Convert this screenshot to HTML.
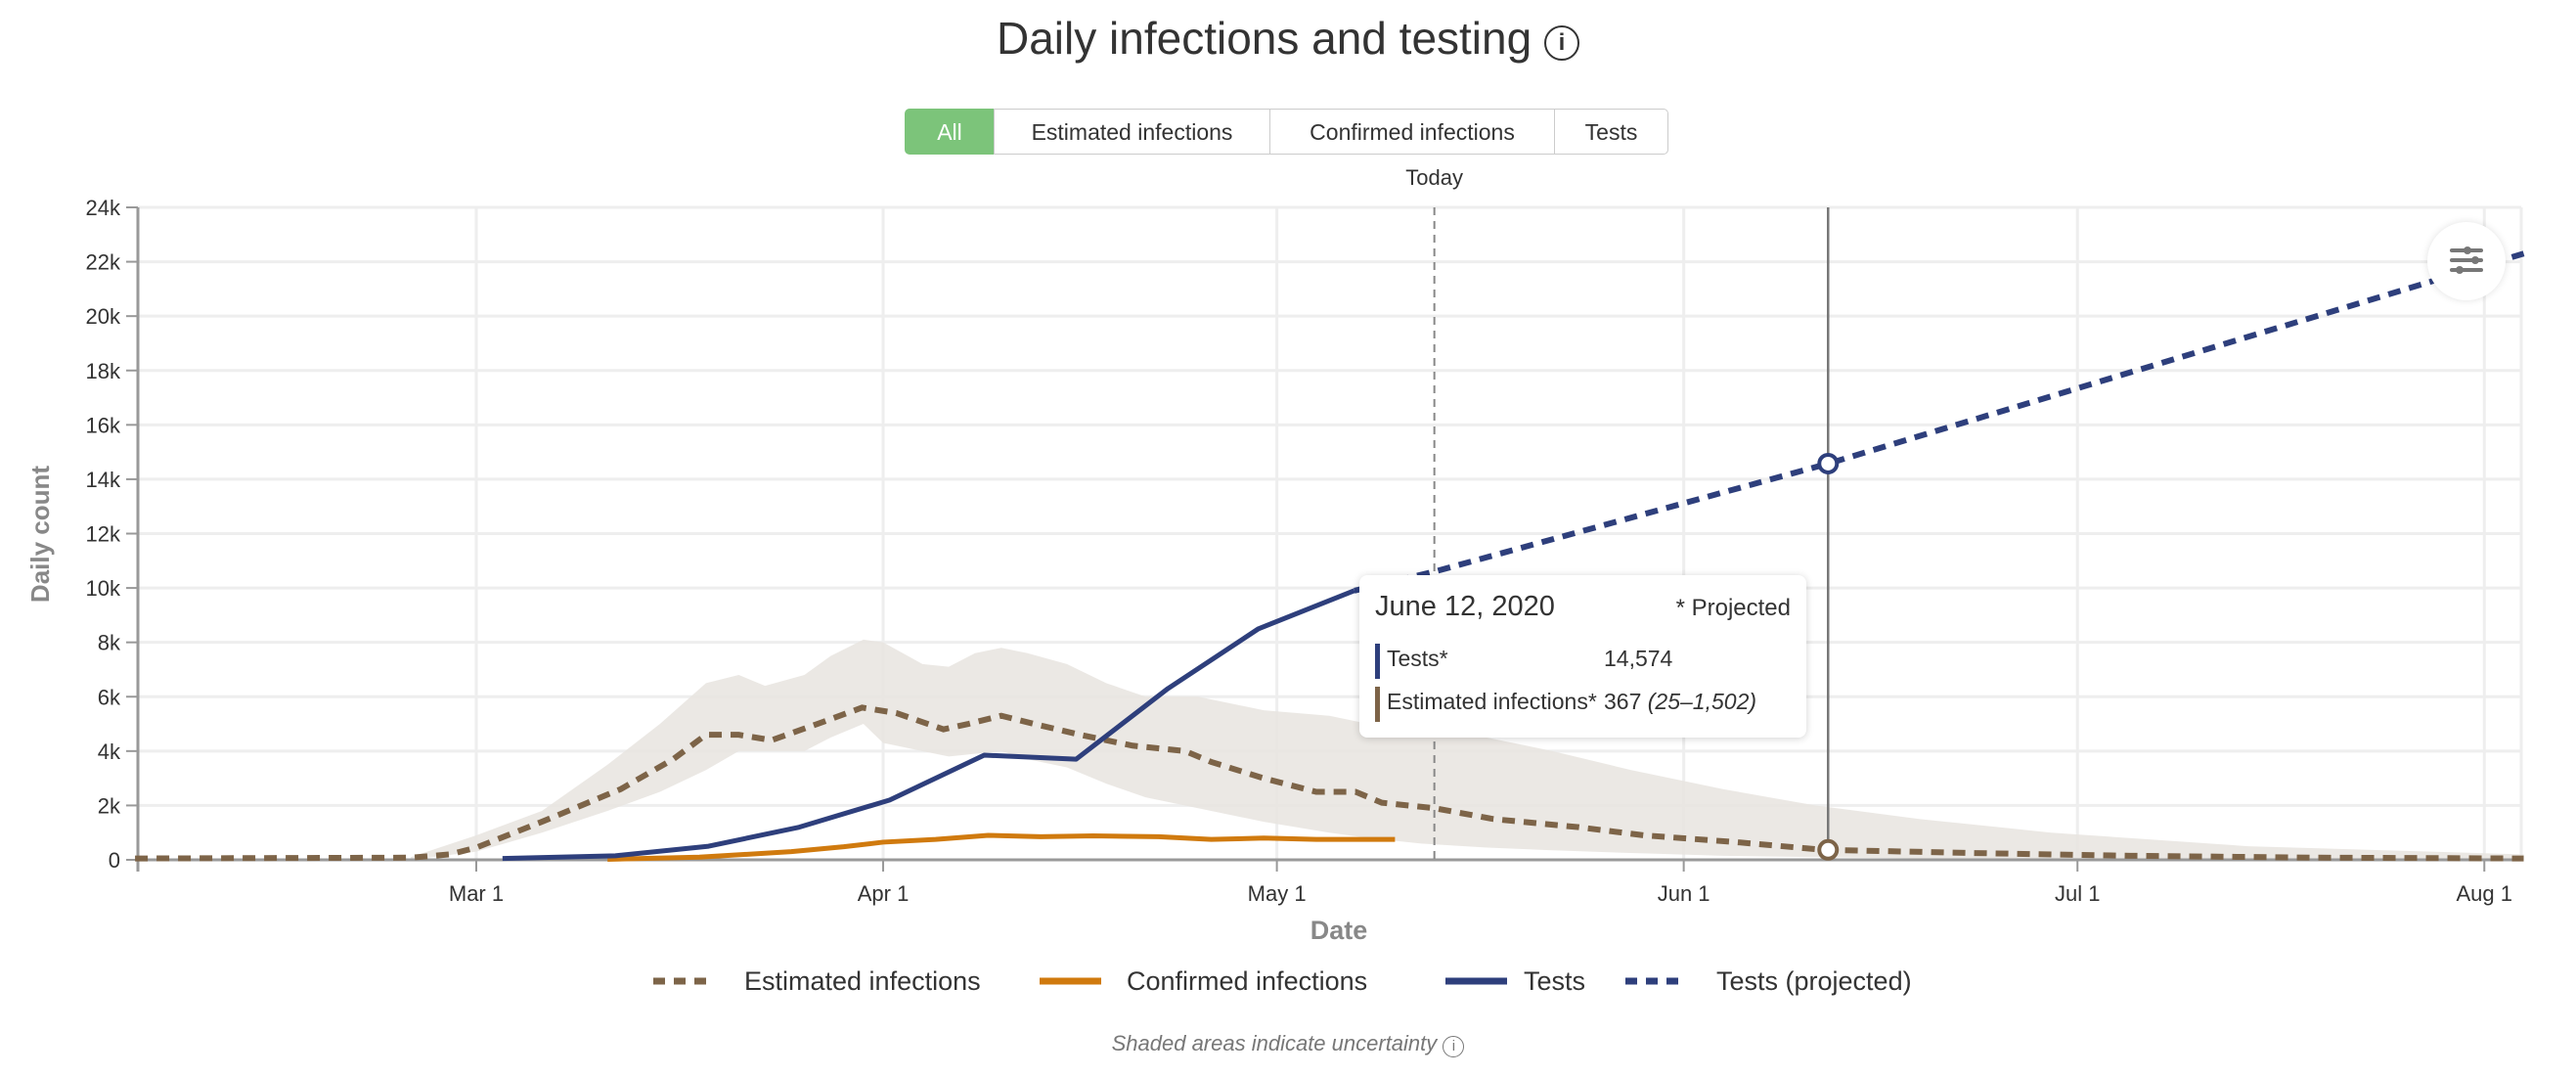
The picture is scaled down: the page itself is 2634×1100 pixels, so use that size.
<!DOCTYPE html>
<html><head><meta charset="utf-8">
<style>
body{margin:0;width:2634px;height:1100px;background:#fff;font-family:"Liberation Sans",sans-serif;overflow:hidden;position:relative}
.btn{position:absolute;top:111px;height:47px;line-height:47px;text-align:center;font-size:23px;color:#333;border:1.5px solid #ccc;box-sizing:border-box;background:#fff}
</style></head><body>
<div style="position:absolute;left:0;width:2634px;top:12px;text-align:center;font-size:46px;color:#333">Daily infections and testing <span style="display:inline-block;width:32px;height:32px;border:2.5px solid #333;border-radius:50%;font-size:24px;line-height:32px;vertical-align:4px;font-weight:bold">i</span></div>
<div class="btn" style="left:925px;width:92px;background:#7cc47a;color:#fff;border-color:#7cc47a;border-radius:5px 0 0 5px">All</div>
<div class="btn" style="left:1016px;width:283px">Estimated infections</div>
<div class="btn" style="left:1298px;width:292px">Confirmed infections</div>
<div class="btn" style="left:1589px;width:117px;border-radius:0 5px 5px 0">Tests</div>
<svg id="chart" width="2634" height="1100" style="position:absolute;left:0;top:0" xmlns="http://www.w3.org/2000/svg"></svg>
<div style="position:absolute;left:1390px;top:588px;width:457px;height:166px;background:#fff;border-radius:8px;box-shadow:0 1px 8px rgba(0,0,0,0.18);color:#333">
 <div style="position:absolute;left:16px;top:16px;font-size:29px">June 12, 2020</div>
 <div style="position:absolute;right:16px;top:20px;font-size:24px">* Projected</div>
 <div style="position:absolute;left:16px;top:70px;width:5px;height:36px;background:#2e3f7c"></div>
 <div style="position:absolute;left:28px;top:72px;font-size:23px">Tests*</div>
 <div style="position:absolute;left:250px;top:72px;font-size:23px">14,574</div>
 <div style="position:absolute;left:16px;top:114px;width:5px;height:36px;background:#7d6448"></div>
 <div style="position:absolute;left:28px;top:116px;font-size:23px">Estimated infections*</div>
 <div style="position:absolute;left:250px;top:116px;font-size:23px">367 <i>(25–1,502)</i></div>
</div>
<div style="position:absolute;left:2482px;top:227px;width:80px;height:80px;border-radius:50%;background:#fff;box-shadow:0 0 8px rgba(0,0,0,0.12)">
 <svg width="80" height="80"><g stroke="#777" stroke-width="4" stroke-linecap="round"><line x1="25" y1="29" x2="55" y2="29"/><line x1="25" y1="39" x2="55" y2="39"/><line x1="25" y1="49" x2="55" y2="49"/></g><g fill="#777"><circle cx="41" cy="29" r="4"/><circle cx="49" cy="39" r="4"/><circle cx="33" cy="49" r="4"/></g></svg></div>
<div style="position:absolute;left:0;width:2634px;top:1054px;text-align:center;font-size:22px;color:#777;font-style:italic">Shaded areas indicate uncertainty <span style="display:inline-block;width:20px;height:20px;border:1.5px solid #777;border-radius:50%;font-size:15px;line-height:20px;font-style:normal">i</span></div>
<script>
// days relative to Mar 1
const estDays=[-26,-5,-2,0,5,11,15,17.5,20,22.5,26,29.4,32,35.6,37.5,40,42.5,46,50,54,56,60,64,67,69,73,77.5,84,89,96,102.6,114,126,140,156];
const estVals=[0.05,0.08,0.2,0.45,1.4,2.6,3.7,4.6,4.6,4.4,5.0,5.6,5.4,4.8,5.0,5.3,5.0,4.6,4.2,4.0,3.6,3.0,2.5,2.5,2.1,1.9,1.5,1.2,0.9,0.65,0.37,0.25,0.15,0.08,0.05];
const bandDays=[-5,0,5,10,14,17.5,20,22,25,27,29.5,31,34,36,38,40,42,45,48,51,55,60,65,68,72,77,82,88,95,102,110,120,135,156];
const bandHigh=[0.1,0.9,1.8,3.5,5.0,6.5,6.8,6.4,6.8,7.5,8.1,8.0,7.2,7.1,7.6,7.8,7.6,7.2,6.5,6.0,6.0,5.5,5.3,5.0,4.8,4.5,4.0,3.3,2.6,2.0,1.5,1.0,0.5,0.2];
const bandLow=[0,0.3,1.0,1.8,2.5,3.3,4.0,4.0,4.0,4.5,5.0,4.3,4.0,3.8,3.9,4.0,3.7,3.4,2.8,2.3,1.9,1.4,1.0,0.8,0.6,0.45,0.35,0.25,0.15,0.1,0.05,0.02,0,0];
const testDays=[2,10.6,17.7,24.6,31.5,38.7,45.7,52.7,59.6,66.9];
const testVals=[0.05,0.15,0.5,1.2,2.2,3.85,3.7,6.3,8.5,9.9];
const projDays=[66.9,73,103,156];
const projVals=[9.9,10.6,14.574,22.3];
const confDays=[10,17,24,28,31,35,39,43,47,52,56,60,64,70];
const confVals=[0.02,0.1,0.3,0.48,0.65,0.75,0.9,0.85,0.88,0.85,0.75,0.8,0.75,0.75];
const yTicks=[0,2,4,6,8,10,12,14,16,18,20,22,24];
const xTickLabels=["Mar 1","Apr 1","May 1","Jun 1","Jul 1","Aug 1"];
const xTickDays=[0,31,61,92,122,153];
const todayDay=73, hoverDay=103, hoverEst=0.367, hoverTest=14.574;

const L=141,R=2578,T=212,B=879,X0=487,PXD=13.42;
const x=d=>X0+d*PXD, y=v=>B-(v/24)*(B-T);
const svg=document.getElementById('chart');const NS='http://www.w3.org/2000/svg';
function mk(tag,at,txt){const e=document.createElementNS(NS,tag);for(const k in at)e.setAttribute(k,at[k]);if(txt!=null)e.textContent=txt;svg.appendChild(e);return e;}
yTicks.forEach(t=>{
 const g=mk('line',{x1:L,x2:R,y1:y(t),y2:y(t),stroke:'#eee','stroke-width':3});
 
 
 mk('line',{x1:L-12,x2:L,y1:y(t),y2:y(t),stroke:'#999','stroke-width':2});
 const lb=mk('text',{x:L-18,y:y(t)+8,'text-anchor':'end','font-size':22,fill:'#333','font-family':'Liberation Sans, sans-serif'},t===0?'0':t+'k');
 
 
});
xTickDays.forEach((d,i)=>{
 const g=mk('line',{x1:x(d),x2:x(d),y1:T,y2:B,stroke:'#eee','stroke-width':3});
 
 
 mk('line',{x1:x(d),x2:x(d),y1:B,y2:B+12,stroke:'#999','stroke-width':2});
 const lb=mk('text',{x:x(d),y:B+42,'text-anchor':'middle','font-size':22,fill:'#333','font-family':'Liberation Sans, sans-serif'},xTickLabels[i]);
 
 
});
mk('line',{x1:R,x2:R,y1:T,y2:B,stroke:'#eee','stroke-width':3});
// band
let bp=bandDays.map((d,i)=>x(d)+','+y(bandHigh[i])).concat(bandDays.slice().reverse().map((d,i)=>x(d)+','+y(bandLow[bandDays.length-1-i])));
const band=mk('polygon',{points:bp.join(' '),fill:'#e8e4df','fill-opacity':0.85});


// axes
mk('line',{x1:L,x2:L,y1:T,y2:B+12,stroke:'#999','stroke-width':3});
mk('line',{x1:L,x2:R,y1:B,y2:B,stroke:'#999','stroke-width':3});
const pts=(ds,vs)=>ds.map((d,i)=>x(d)+','+y(vs[i])).join(' ');
const conf=mk('polyline',{points:pts(confDays,confVals),fill:'none',stroke:'#d07a0e','stroke-width':5,'stroke-linejoin':'round'});


const est=mk('polyline',{points:pts(estDays,estVals),fill:'none',stroke:'#7d6448','stroke-width':6,'stroke-dasharray':'13 9'});


const tst=mk('polyline',{points:pts(testDays,testVals),fill:'none',stroke:'#2e3f7c','stroke-width':5,'stroke-linejoin':'round'});


const proj=mk('polyline',{points:pts(projDays,projVals),fill:'none',stroke:'#2e3f7c','stroke-width':6,'stroke-dasharray':'13 9'});


// today line
const td=mk('line',{x1:x(todayDay),x2:x(todayDay),y1:T,y2:B,stroke:'#888','stroke-width':2,'stroke-dasharray':'8 6'});


const tl=mk('text',{x:x(todayDay),y:189,'text-anchor':'middle','font-size':22,fill:'#333','font-family':'Liberation Sans, sans-serif'},'Today');


const hl=mk('line',{x1:x(hoverDay),x2:x(hoverDay),y1:T,y2:B,stroke:'#777','stroke-width':2.5});


const c1=mk('circle',{cx:x(hoverDay),cy:y(hoverTest),r:9,fill:'#fff',stroke:'#2e3f7c','stroke-width':4});


const c2=mk('circle',{cx:x(hoverDay),cy:y(hoverEst),r:9,fill:'#fff',stroke:'#7d6448','stroke-width':4});


// axis titles
const xt=mk('text',{x:1369,y:960,'text-anchor':'middle','font-size':27,'font-weight':'bold',fill:'#888','font-family':'Liberation Sans, sans-serif'},'Date');


const yt=mk('text',{x:0,y:0,'text-anchor':'middle','font-size':26,'font-weight':'bold',fill:'#888','font-family':'Liberation Sans, sans-serif',transform:'translate(50,546) rotate(-90)'},'Daily count');


// legend
const leg=[[668,761,'#7d6448',true,'Estimated infections'],[1063,1152,'#d07a0e',false,'Confirmed infections'],[1478,1558,'#2e3f7c',false,'Tests'],[1662,1755,'#2e3f7c',true,'Tests (projected)']];
leg.forEach(l=>{
 const a={x1:l[0],x2:l[0]+63,y1:1003,y2:1003,stroke:l[2],'stroke-width':7};
 if(l[3])a['stroke-dasharray']='12 9';
 const ln=mk('line',a);
 
 
 const t=mk('text',{x:l[1],y:1012,'font-size':27,fill:'#333','font-family':'Liberation Sans, sans-serif'},l[4]);
 
 
});
</script>
</body></html>
